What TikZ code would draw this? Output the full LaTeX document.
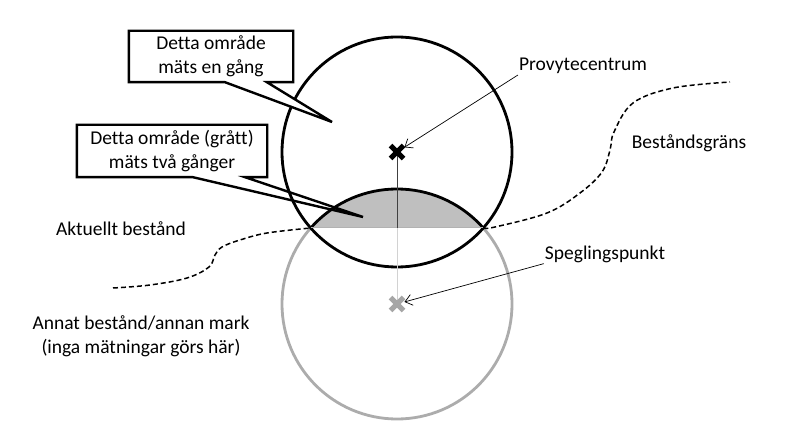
\documentclass[tikz,border=0pt]{standalone}
\usepackage{fontspec}
\setmainfont{Carlito}[Ligatures=CommonOff]
\usetikzlibrary{arrows.meta,calc,shapes.misc}

\tikzset{
    plotcircle/.style={line width=2.8pt},
    callout/.style={line width=2.4pt, fill=white},
    boxtext/.style={inner sep=0pt, align=center, font=\fontsize{19.5}{24}\selectfont},
    label/.style={inner sep=1pt, align=center, font=\fontsize{19.5}{24}\selectfont},
    marker/.style={cross out, draw, line width=5pt, minimum size=8pt, inner sep=0pt},
    pointer/.style={line width=0.7pt, -{Straight Barb[length=7pt,width=11pt]}, shorten >=1pt},
    border/.style={dashed, line width=1.5pt, dash pattern=on 5pt off 3pt},
}

\begin{document}
\begin{tikzpicture}[x=1pt, y=-1pt]
    \useasboundingbox (0,0) rectangle (800,446);

    % points
    \coordinate (c) at (397,152);
    \coordinate (m) at (397,304);
    \coordinate (chordL) at (310.7,228);
    \coordinate (chordR) at (483.3,228);

    % mirrored part above the border (grey)
    \begin{scope}
        \clip (0,0) rectangle (800,228);
        \fill[gray!50] (m) circle[radius=115pt];
        \draw[plotcircle] (m) circle[radius=115pt];
    \end{scope}
    \begin{scope}
        \clip (0,228) rectangle (800,446);
        \draw[plotcircle, gray!65] (m) circle[radius=115pt];
    \end{scope}

    % sample plot
    \draw[plotcircle] (c) circle[radius=115pt];

    \draw[gray!60, line width=1pt] (chordL) -- (chordR);
    \draw[gray!50!black, line width=0.9pt] (c) -- (397,228);
    \draw[gray!35, line width=1pt] (397,228) -- (m);

    % stand border
    \draw[border] plot[smooth, tension=0.6] coordinates {(113,288) (150,285) (187,278) (209,267) (215,255) (222,247) (240,240) (267,233) (chordL)};
    \draw[border] plot[smooth, tension=0.6] coordinates {(chordR) (495,227) (547,213) (580,193) (602,172) (610,150) (614,132) (633,103) (673,88) (730,82)};

    \node[marker] (centre) at (c) {};
    \node[marker, gray!70] (mirror) at (m) {};

    % callouts
    \node[boxtext, minimum width=164pt, minimum height=51pt] (box1) at (211,56.5) {Detta område\\mäts en gång};
    \coordinate (tip1) at (332,122);
    \draw[callout] (box1.south west) -- (box1.north west) -- (box1.north east) -- (box1.south east)
        -- ($(box1.south west)!0.84!(box1.south east)$) -- (tip1)
        -- ($(box1.south west)!0.585!(box1.south east)$) -- cycle;
    \node[boxtext] at (box1) {Detta område\\mäts en gång};

    \node[boxtext, minimum width=190pt, minimum height=52pt] (box2) at (172,151) {Detta område (grått)\\mäts två gånger};
    \coordinate (tip2) at (363,217);
    \draw[callout, fill=none] (box2.south west) -- (box2.north west) -- (box2.north east) -- (box2.south east)
        -- ($(box2.south west)!0.884!(box2.south east)$) -- (tip2)
        -- ($(box2.south west)!0.61!(box2.south east)$) -- cycle;

    % labels
    \node[label] (prov) at (583,66) {Provytecentrum};
    \node[label] (bgrans) at (689,143) {Beståndsgräns};
    \node[label] (aktuellt) at (121,229) {Aktuellt bestånd};
    \node[label] (annat) at (141,336) {Annat bestånd/annan mark\\(inga mätningar görs här)};
    \node[label] (spegl) at (605,254) {Speglingspunkt};

    \draw[pointer] (prov.south west) -- (centre);
    \draw[pointer] (spegl.south west) -- (mirror);

\end{tikzpicture}
\end{document}
